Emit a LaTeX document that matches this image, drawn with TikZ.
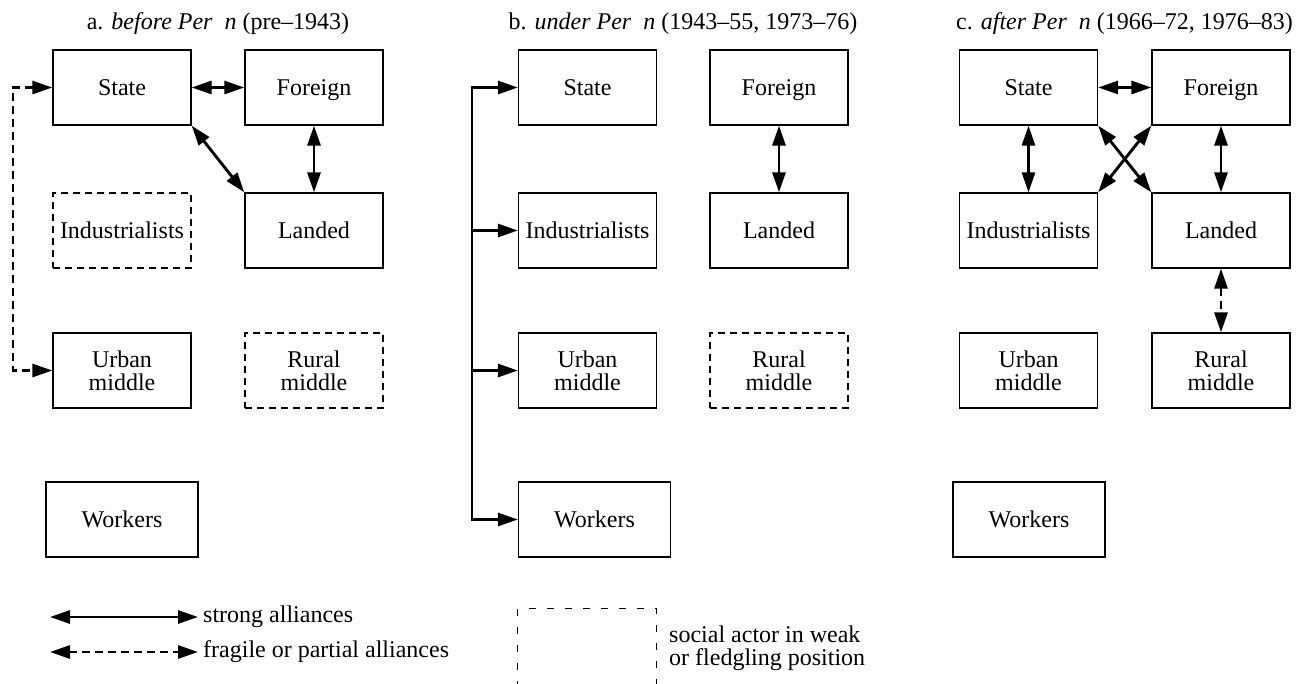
\documentclass[tikz,border=0pt]{standalone}
\usepackage{fontspec}
\setmainfont{Liberation Serif}
\usetikzlibrary{arrows.meta}
\newcommand{\fsz}{\fontsize{24}{23}\selectfont}
\newcommand{\Pn}{Per\hspace{0.5em}n}
\begin{document}
\begin{tikzpicture}[x=1pt,y=-1pt,
  every node/.style={font=\fsz},
  actor/.style={draw, line width=1.3pt, minimum width=138pt, minimum height=75pt, inner sep=0pt, align=center, text height=16pt, text depth=0pt},
  actortwo/.style={draw, line width=1.3pt, minimum width=138pt, minimum height=75pt, inner sep=0pt, align=center},
  weak/.style={dash pattern=on 7pt off 5pt},
  wideactor/.style={actor, minimum width=152pt},
  tipA/.tip={Triangle[length=20pt,width=13pt]},
  strongarr/.style={line width=2.9pt, tipA-tipA},
  fragile/.style={strongarr, dash pattern=on 8pt off 5pt},
  ptr/.style={line width=2.9pt, line join=miter, -tipA},
  legdash/.style={line width=1.3pt, dash pattern=on 7pt off 11pt},
  lbl/.style={anchor=west, inner sep=0pt}]
\useasboundingbox (0,0) rectangle (1306,683);
\clip (0,0) rectangle (1306,683);
% titles
\node[anchor=base] (ta) at (218,29) {a. \textit{before \Pn} (pre--1943)};
\node[anchor=base] (tb) at (683,29) {b. \textit{under \Pn} (1943--55, 1973--76)};
\node[anchor=base] (tc) at (1124.5,29) {c. \textit{after \Pn} (1966--72, 1976--83)};
% panel a
\node[actor] (aS) at (122,87.5) {State};
\node[actor] (aF) at (314,87.5) {Foreign};
\node[actor, weak] (aI) at (122,230.5) {Industrialists};
\node[actor] (aL) at (314,230.5) {Landed};
\node[actortwo] (aU) at (122,370.5) {Urban\\middle};
\node[actortwo, weak] (aR) at (314,370.5) {Rural\\middle};
\node[wideactor] (aW) at (122,519.5) {Workers};
\draw[strongarr] (aS.east) -- (aF.west);
\draw[strongarr] (aS.south east) -- (aL.north west);
\draw[strongarr] (aF.south) -- (aL.north);
\coordinate (aD) at (13,0);
\draw[fragile] (aS.west) -- (aS.west -| aD) -- (aU.west -| aD) -- (aU.west);
% panel b
\node[actor] (bS) at (587.5,87.5) {State};
\node[actor] (bF) at (779,87.5) {Foreign};
\node[actor] (bI) at (587.5,230.5) {Industrialists};
\node[actor] (bL) at (779,230.5) {Landed};
\node[actortwo] (bU) at (587.5,370.5) {Urban\\middle};
\node[actortwo, weak] (bR) at (779,370.5) {Rural\\middle};
\node[wideactor] (bW) at (594.5,519.5) {Workers};
\coordinate (bX) at (472,0);
\draw[ptr] (bW.west -| bX) |- (bS.west);
\draw[ptr] (bS.west -| bX) |- (bW.west);
\draw[ptr] (bI.west -| bX) -- (bI.west);
\draw[ptr] (bU.west -| bX) -- (bU.west);
\draw[strongarr] (bF.south) -- (bL.north);
% panel c
\node[actor] (cS) at (1028.5,87.5) {State};
\node[actor] (cF) at (1221,87.5) {Foreign};
\node[actor] (cI) at (1028.5,230.5) {Industrialists};
\node[actor] (cL) at (1221,230.5) {Landed};
\node[actortwo] (cU) at (1028.5,370.5) {Urban\\middle};
\node[actortwo] (cR) at (1221,370.5) {Rural\\middle};
\node[wideactor] (cW) at (1029,519.5) {Workers};
\draw[strongarr] (cS.east) -- (cF.west);
\draw[strongarr] (cS.south) -- (cI.north);
\draw[strongarr] (cF.south) -- (cL.north);
\draw[strongarr] (cS.south east) -- (cL.north west);
\draw[strongarr] (cF.south west) -- (cI.north east);
\draw[fragile] (cL.south) -- (cR.north);
% legend
\coordinate (s1) at (50,617);
\coordinate (s2) at (198,617);
\coordinate (f1) at (50,652);
\coordinate (f2) at (198,652);
\draw[strongarr] (s1) -- (s2);
\draw[fragile] (f1) -- (f2);
\node[lbl] (st) at (203,617) {strong alliances};
\node[lbl] (ft) at (203,652) {fragile or partial alliances};
\node[draw, legdash, minimum width=139pt, minimum height=100pt, inner sep=0pt, anchor=north west] (lb) at (517,608) {};
\node[lbl, align=left] (lt) at (669,648.5) {social actor in weak\\or fledgling position};
\end{tikzpicture}
\end{document}
